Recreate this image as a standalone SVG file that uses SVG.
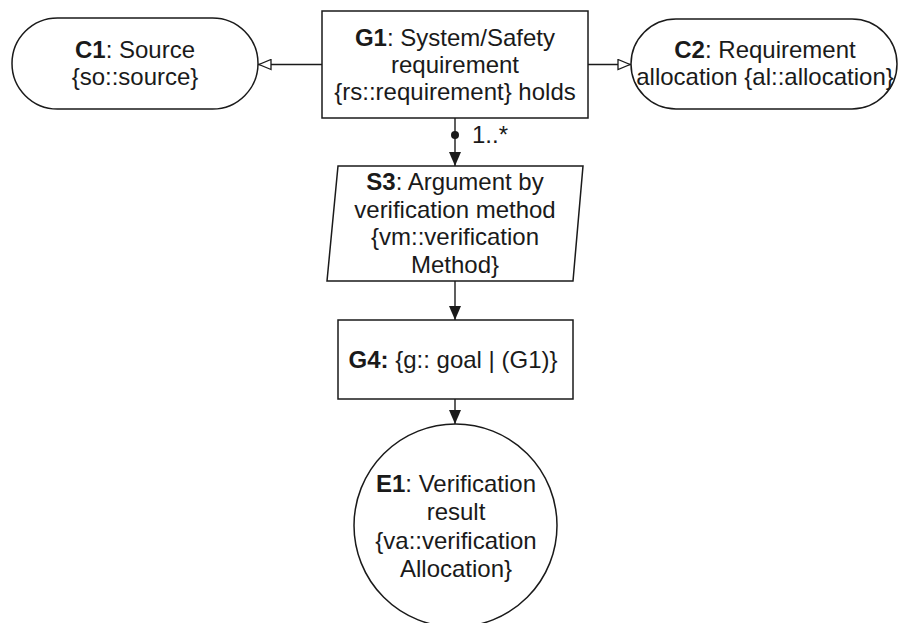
<svg xmlns="http://www.w3.org/2000/svg" width="902" height="623" viewBox="0 0 902 623">
  <style>
    .shape { fill: #ffffff; stroke: #1a1a1a; stroke-width: 1.5; }
    .edge { fill: none; stroke: #1a1a1a; stroke-width: 1.4; }
    text { font-family: "Liberation Sans", Arial, Helvetica, sans-serif; font-size: 24px; fill: #1a1a1a; text-anchor: middle; }
    .b { font-weight: bold; }
  </style>
  <defs>
    <marker id="open-tri" viewBox="0 0 14 12" refX="14" refY="6" markerWidth="14" markerHeight="12" markerUnits="userSpaceOnUse" orient="auto">
      <path d="M1,1 L13,6 L1,11 Z" fill="#ffffff" stroke="#1a1a1a" stroke-width="1.3"/>
    </marker>
    <marker id="solid-tri" viewBox="0 0 14 12" refX="14" refY="6" markerWidth="14" markerHeight="12" markerUnits="userSpaceOnUse" orient="auto">
      <path d="M0,0 L14,6 L0,12 Z" fill="#1a1a1a"/>
    </marker>
  </defs>

  <rect width="902" height="623" fill="#ffffff"/>

  <g id="connectors">
    <path class="edge" d="M322,64.5 L258,64.5" marker-end="url(#open-tri)"/>
    <path class="edge" d="M588,64.5 L631,64.5" marker-end="url(#open-tri)"/>
    <path class="edge" d="M455,118 L455,166" marker-end="url(#solid-tri)"/>
    <circle cx="455" cy="135" r="4" fill="#1a1a1a"/>
    <text x="472" y="143" style="text-anchor:start">1..*</text>
    <path class="edge" d="M455,281 L455,320" marker-end="url(#solid-tri)"/>
    <path class="edge" d="M455,399 L455,424" marker-end="url(#solid-tri)"/>
  </g>

  <g id="G1">
    <rect class="shape" x="322" y="11" width="266" height="107"/>
    <text x="455" y="46"><tspan class="b">G1</tspan>: System/Safety</text>
    <text x="455" y="73">requirement</text>
    <text x="455" y="100">{rs::requirement} holds</text>
  </g>

  <g id="C1">
    <rect class="shape" x="12" y="18" width="246" height="91" rx="45.5" ry="45.5"/>
    <text x="135" y="58"><tspan class="b">C1</tspan>: Source</text>
    <text x="135" y="85">{so::source}</text>
  </g>

  <g id="C2">
    <rect class="shape" x="631" y="19" width="266" height="90" rx="45" ry="45"/>
    <text x="765" y="58"><tspan class="b">C2</tspan>: Requirement</text>
    <text x="765" y="85">allocation {al::allocation}</text>
  </g>

  <g id="S3">
    <polygon class="shape" points="338,166 583,166 573,281 327,281"/>
    <text x="455" y="190"><tspan class="b">S3</tspan>: Argument by</text>
    <text x="455" y="217.5">verification method</text>
    <text x="455" y="245">{vm::verification</text>
    <text x="455" y="272.5">Method}</text>
  </g>

  <g id="G4">
    <rect class="shape" x="338" y="320" width="235" height="79"/>
    <text x="453" y="368"><tspan class="b">G4:</tspan> {g:: goal | (G1)}</text>
  </g>

  <g id="E1">
    <circle class="shape" cx="455.5" cy="525.5" r="101.5"/>
    <text x="456" y="492"><tspan class="b">E1</tspan>: Verification</text>
    <text x="456" y="520">result</text>
    <text x="456" y="549">{va::verification</text>
    <text x="456" y="577">Allocation}</text>
  </g>
</svg>
